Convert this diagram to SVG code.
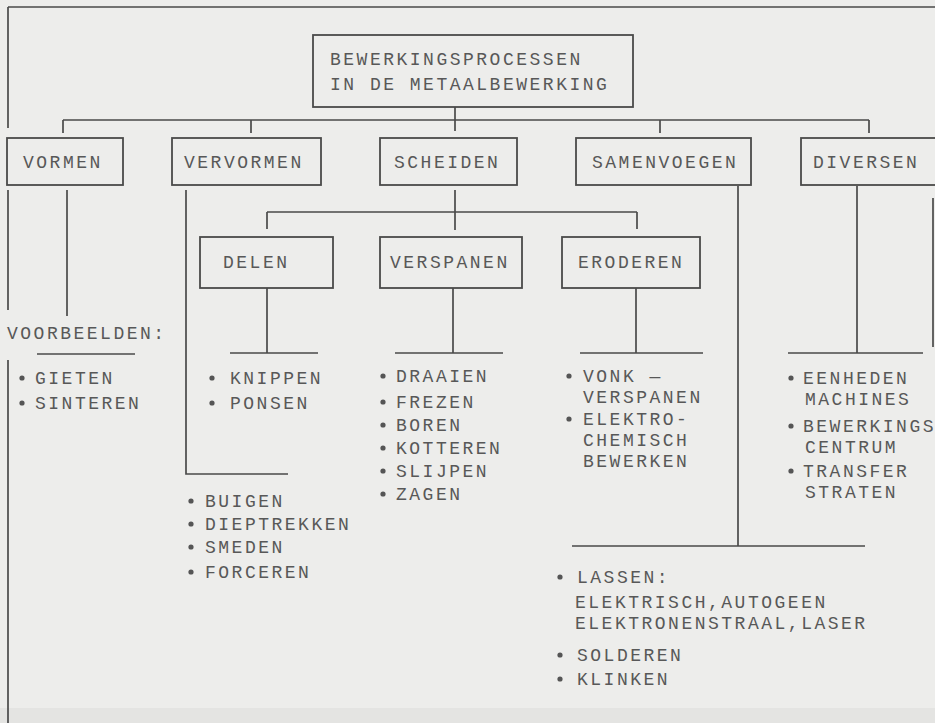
<svg xmlns="http://www.w3.org/2000/svg" width="935" height="723" viewBox="0 0 935 723">
<style>
.bg{fill:#ededeb}
.box{fill:none;stroke:#4a4a4a;stroke-width:1.8}
.ln{fill:none;stroke:#4a4a4a;stroke-width:1.7}
text{font-family:"Liberation Mono","DejaVu Sans Mono",monospace;font-size:18px;letter-spacing:2.5px;fill:#585858}
.dot{fill:#555}
</style>
<rect class="bg" x="0" y="0" width="935" height="723"/>
<rect x="0" y="708" width="935" height="15" fill="#e4e4e2"/>
<g id="connectors">
<path class="ln" d="M8,7 H935 M8,7 V128 M8,190 V310 M8,360 V723"/>
<path class="ln" d="M455,107 V131 M63,120 H869 M63,120 V133 M251,120 V133 M660,120 V133 M869,120 V133"/>
<path class="ln" d="M67,190 V316"/>
<path class="ln" d="M186,190 V474 H288"/>
<path class="ln" d="M455,190 V230 M267,212 H637 M267,212 V229 M637,212 V229"/>
<path class="ln" d="M267,288 V353 M230,353 H318"/>
<path class="ln" d="M453,288 V353 M395,353 H503"/>
<path class="ln" d="M636,288 V353 M580,353 H703"/>
<path class="ln" d="M738,186 V546 M572,546 H865"/>
<path class="ln" d="M857,186 V353 M788,353 H923"/>
<path class="ln" d="M933,198 V347"/>
<path class="ln" d="M37,354 H135"/>
</g>
<g id="root">
<rect class="box" x="313" y="35" width="320" height="72"/>
<text x="330" y="65">BEWERKINGSPROCESSEN</text>
<text x="330" y="90">IN DE METAALBEWERKING</text>
</g>
<g id="vormen">
<rect class="box" x="7" y="138" width="116" height="47"/>
<text x="23" y="168">VORMEN</text>
</g>
<g id="vervormen">
<rect class="box" x="172" y="138" width="149" height="47"/>
<text x="184" y="168">VERVORMEN</text>
</g>
<g id="scheiden">
<rect class="box" x="380" y="138" width="137" height="47"/>
<text x="394" y="168">SCHEIDEN</text>
</g>
<g id="samenvoegen">
<rect class="box" x="576" y="138" width="175" height="47"/>
<text x="592" y="168">SAMENVOEGEN</text>
</g>
<g id="diversen">
<rect class="box" x="801" y="138" width="145" height="47"/>
<text x="813" y="168">DIVERSEN</text>
</g>
<g id="delen">
<rect class="box" x="200" y="237" width="133" height="51"/>
<text x="223" y="268">DELEN</text>
</g>
<g id="verspanen">
<rect class="box" x="380" y="237" width="142" height="51"/>
<text x="390" y="268">VERSPANEN</text>
</g>
<g id="eroderen">
<rect class="box" x="562" y="237" width="138" height="51"/>
<text x="578" y="268">ERODEREN</text>
</g>
<g id="voorbeelden">
<text x="7" y="339">VOORBEELDEN:</text>
<circle class="dot" cx="22" cy="378" r="2.6"/><text x="35" y="384">GIETEN</text>
<circle class="dot" cx="22" cy="403" r="2.6"/><text x="35" y="409">SINTEREN</text>
</g>
<g id="delen-list">
<circle class="dot" cx="212" cy="378" r="2.6"/><text x="230" y="384">KNIPPEN</text>
<circle class="dot" cx="212" cy="403" r="2.6"/><text x="230" y="409">PONSEN</text>
</g>
<g id="verspanen-list">
<circle class="dot" cx="383" cy="376" r="2.6"/><text x="396" y="382">DRAAIEN</text>
<circle class="dot" cx="383" cy="402" r="2.6"/><text x="396" y="408">FREZEN</text>
<circle class="dot" cx="383" cy="425" r="2.6"/><text x="396" y="431">BOREN</text>
<circle class="dot" cx="383" cy="448" r="2.6"/><text x="396" y="454">KOTTEREN</text>
<circle class="dot" cx="383" cy="471" r="2.6"/><text x="396" y="477">SLIJPEN</text>
<circle class="dot" cx="383" cy="494" r="2.6"/><text x="396" y="500">ZAGEN</text>
</g>
<g id="eroderen-list">
<circle class="dot" cx="569" cy="376" r="2.6"/><text x="583" y="382">VONK —</text>
<text x="583" y="403">VERSPANEN</text>
<circle class="dot" cx="569" cy="419" r="2.6"/><text x="583" y="425">ELEKTRO-</text>
<text x="583" y="446">CHEMISCH</text>
<text x="583" y="467">BEWERKEN</text>
</g>
<g id="diversen-list">
<circle class="dot" cx="791" cy="378" r="2.6"/><text x="803" y="384">EENHEDEN</text>
<text x="805" y="405">MACHINES</text>
<circle class="dot" cx="791" cy="426" r="2.6"/><text x="803" y="432">BEWERKINGS</text>
<text x="805" y="453">CENTRUM</text>
<circle class="dot" cx="791" cy="471" r="2.6"/><text x="803" y="477">TRANSFER</text>
<text x="805" y="498">STRATEN</text>
</g>
<g id="vervormen-list">
<circle class="dot" cx="191" cy="501" r="2.6"/><text x="205" y="507">BUIGEN</text>
<circle class="dot" cx="191" cy="524" r="2.6"/><text x="205" y="530">DIEPTREKKEN</text>
<circle class="dot" cx="191" cy="547" r="2.6"/><text x="205" y="553">SMEDEN</text>
<circle class="dot" cx="191" cy="572" r="2.6"/><text x="205" y="578">FORCEREN</text>
</g>
<g id="samenvoegen-list">
<circle class="dot" cx="560" cy="577" r="2.6"/><text x="577" y="583">LASSEN:</text>
<text x="575" y="608">ELEKTRISCH,AUTOGEEN</text>
<text x="575" y="629">ELEKTRONENSTRAAL,LASER</text>
<circle class="dot" cx="560" cy="655" r="2.6"/><text x="577" y="661">SOLDEREN</text>
<circle class="dot" cx="560" cy="679" r="2.6"/><text x="577" y="685">KLINKEN</text>
</g>
</svg>
